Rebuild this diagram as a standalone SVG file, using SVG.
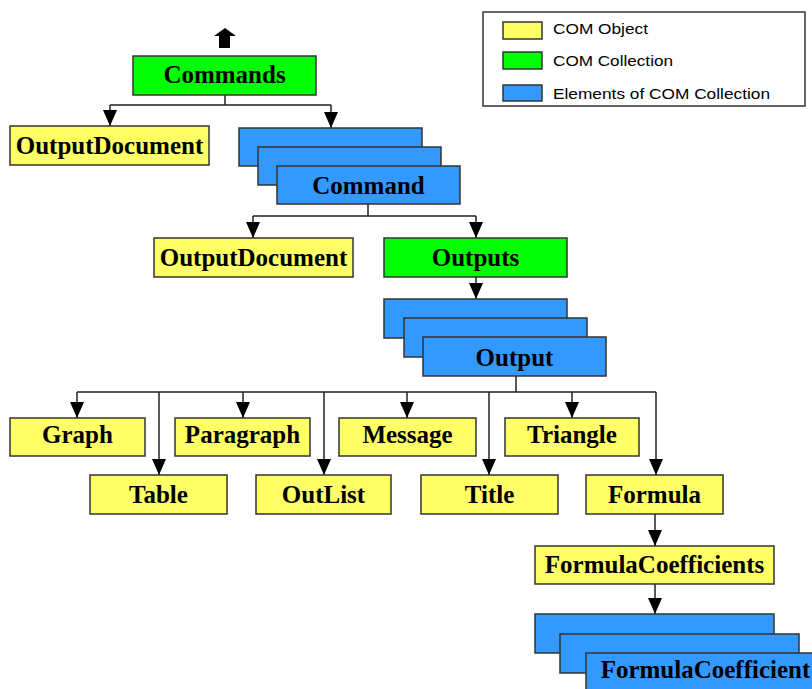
<svg xmlns="http://www.w3.org/2000/svg" width="812" height="689" viewBox="0 0 812 689">
<defs>
<style>
.obj{fill:#FFFF66;stroke:#333;stroke-width:1.5}
.col{fill:#00FF00;stroke:#333;stroke-width:1.5}
.el{fill:#3399FF;stroke:#333;stroke-width:1.5}
.t{font-family:"Liberation Serif","Times New Roman",serif;font-weight:bold;font-size:25px;fill:#000;text-anchor:middle}
.lg{font-family:"Liberation Sans",Arial,sans-serif;font-size:14.5px;fill:#000}
.c{fill:none;stroke:#222;stroke-width:1.5}
</style>
<marker id="arr" markerUnits="userSpaceOnUse" markerWidth="16" markerHeight="14" viewBox="0 0 16 14" refX="16" refY="7" orient="auto">
<path d="M0,0 L16,7 L0,14 z" fill="#000"/>
</marker>
</defs>
<rect width="812" height="689" fill="#fff"/>

<g id="legend">
<rect x="483" y="12" width="322" height="94" fill="#fff" stroke="#333" stroke-width="1.5"/>
<rect x="503" y="22" width="39" height="17" class="obj"/>
<rect x="503" y="52" width="39" height="17" class="col"/>
<rect x="503" y="85" width="39" height="16" class="el"/>
<text x="553" y="34" class="lg" textLength="95" lengthAdjust="spacingAndGlyphs">COM Object</text>
<text x="553" y="66" class="lg" textLength="120" lengthAdjust="spacingAndGlyphs">COM Collection</text>
<text x="553" y="99" class="lg" textLength="217" lengthAdjust="spacingAndGlyphs">Elements of COM Collection</text>
</g>

<g id="connectors">
<path d="M214,36 L225,28 L236,36 L230,36 L230,48 L219,48 L219,36 z" fill="#000"/>
<path class="c" d="M225,95 V105 M110,105 H331"/>
<line class="c" x1="110" y1="105" x2="110" y2="126" marker-end="url(#arr)"/>
<line class="c" x1="331" y1="105" x2="331" y2="128" marker-end="url(#arr)"/>
<path class="c" d="M368,204 V216 M253,216 H476"/>
<line class="c" x1="253" y1="216" x2="253" y2="238" marker-end="url(#arr)"/>
<line class="c" x1="476" y1="216" x2="476" y2="238" marker-end="url(#arr)"/>
<line class="c" x1="476" y1="277" x2="476" y2="299" marker-end="url(#arr)"/>
<path class="c" d="M516,376 V392 M77,392 H656"/>
<line class="c" x1="77" y1="392" x2="77" y2="418" marker-end="url(#arr)"/>
<line class="c" x1="159" y1="392" x2="159" y2="475" marker-end="url(#arr)"/>
<line class="c" x1="243" y1="392" x2="243" y2="418" marker-end="url(#arr)"/>
<line class="c" x1="324" y1="392" x2="324" y2="475" marker-end="url(#arr)"/>
<line class="c" x1="407" y1="392" x2="407" y2="418" marker-end="url(#arr)"/>
<line class="c" x1="489" y1="392" x2="489" y2="475" marker-end="url(#arr)"/>
<line class="c" x1="572" y1="392" x2="572" y2="418" marker-end="url(#arr)"/>
<line class="c" x1="656" y1="392" x2="656" y2="475" marker-end="url(#arr)"/>
<line class="c" x1="655" y1="514" x2="655" y2="546" marker-end="url(#arr)"/>
<line class="c" x1="655" y1="584" x2="655" y2="614" marker-end="url(#arr)"/>
</g>

<g id="commands">
<rect x="133" y="56" width="183" height="39" class="col"/>
<text x="224.5" y="83" class="t">Commands</text>
</g>
<g id="outputdocument1">
<rect x="10" y="126" width="199" height="39" class="obj"/>
<text x="109.5" y="154" class="t">OutputDocument</text>
</g>
<g id="command">
<rect x="239" y="128" width="183" height="38" class="el"/>
<rect x="258" y="147" width="183" height="38" class="el"/>
<rect x="277" y="166" width="183" height="38" class="el"/>
<text x="368.5" y="194" class="t">Command</text>
</g>
<g id="outputdocument2">
<rect x="154" y="238" width="199" height="39" class="obj"/>
<text x="253.5" y="266" class="t">OutputDocument</text>
</g>
<g id="outputs">
<rect x="384" y="238" width="183" height="39" class="col"/>
<text x="475.5" y="266" class="t">Outputs</text>
</g>
<g id="output">
<rect x="384" y="299" width="183" height="39" class="el"/>
<rect x="404" y="318" width="183" height="39" class="el"/>
<rect x="423" y="337" width="183" height="39" class="el"/>
<text x="514.5" y="366" class="t">Output</text>
</g>
<g id="graph">
<rect x="10" y="418" width="135" height="38" class="obj"/>
<text x="77.5" y="443" class="t">Graph</text>
</g>
<g id="paragraph">
<rect x="175" y="418" width="135" height="38" class="obj"/>
<text x="242.5" y="443" class="t">Paragraph</text>
</g>
<g id="message">
<rect x="339" y="418" width="137" height="38" class="obj"/>
<text x="407.5" y="443" class="t">Message</text>
</g>
<g id="triangle">
<rect x="505" y="418" width="134" height="38" class="obj"/>
<text x="572" y="443" class="t">Triangle</text>
</g>
<g id="table">
<rect x="90" y="475" width="137" height="39" class="obj"/>
<text x="158.5" y="503" class="t">Table</text>
</g>
<g id="outlist">
<rect x="256" y="475" width="135" height="39" class="obj"/>
<text x="323.5" y="503" class="t">OutList</text>
</g>
<g id="title">
<rect x="421" y="475" width="137" height="39" class="obj"/>
<text x="489.5" y="503" class="t">Title</text>
</g>
<g id="formula">
<rect x="586" y="475" width="137" height="39" class="obj"/>
<text x="654.5" y="503" class="t">Formula</text>
</g>
<g id="formulacoefficients">
<rect x="535" y="546" width="239" height="38" class="obj"/>
<text x="654.5" y="573" class="t">FormulaCoefficients</text>
</g>
<g id="formulacoefficient">
<rect x="535" y="614" width="239" height="39" class="el"/>
<rect x="560" y="634" width="239" height="39" class="el"/>
<rect x="586" y="653" width="239" height="39" class="el"/>
<text x="705.5" y="678" class="t">FormulaCoefficient</text>
</g>
</svg>
